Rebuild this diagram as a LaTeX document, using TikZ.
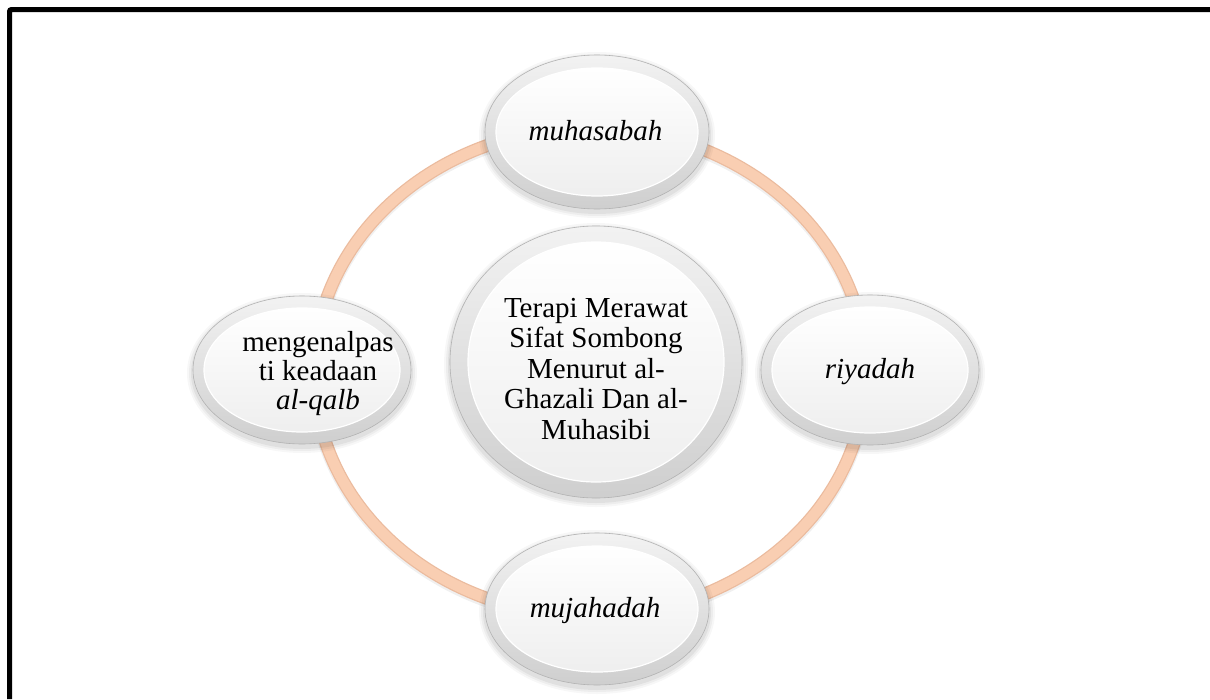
\documentclass[tikz,border=0pt]{standalone}
\usepackage{fontspec}
\setmainfont{Liberation Serif}
\usetikzlibrary{shapes.geometric}
\definecolor{ringfill}{HTML}{F9CEB2}
\definecolor{ringedge}{HTML}{EBBB9E}
\tikzset{
  rim/.style={ellipse, inner sep=0pt, draw=gray!60, line width=0.6pt,
    top color=gray!10, middle color=white, bottom color=gray!38},
  face/.style={ellipse, inner sep=0pt, draw=white, line width=1.2pt,
    top color=white, bottom color=gray!13},
  lbl/.style={inner sep=0pt, align=center, text=black,
    font=\fontsize{29}{29}\selectfont},
  frameline/.style={line width=5pt, black, rounded corners=2pt}
}
\newcommand\mybubble[7]{%
  \foreach \k/\o in {6/0.03,4/0.04,2/0.05}{
    \fill[black,opacity=\o] (#2,#3+3) ellipse [x radius=#4pt+\k pt, y radius=#5pt+\k pt];
  }
  \node[rim, minimum width=2*#4pt, minimum height=2*#5pt] (#1) at (#2,#3) {};
  \node[face, minimum width=2*#6pt, minimum height=2*#7pt] (#1-face) at (#2,#3) {};
}
\begin{document}
\begin{tikzpicture}[x=1pt,y=-1pt]
\useasboundingbox (0,0) rectangle (1210,699);
\fill[white] (0,0) rectangle (1210,699);
% frame
\draw[frameline] (9.5,699) -- (9.5,9.5) -- (1210,9.5);
% ring
\coordinate (ringc) at (590,372);
\draw[black, opacity=0.06, line width=14pt] ([yshift=-2pt]ringc) ellipse [x radius=276pt, y radius=244pt];
\draw[ringedge, line width=13pt] (ringc) ellipse [x radius=276pt, y radius=244pt];
\draw[ringfill, line width=10.5pt] (ringc) ellipse [x radius=276pt, y radius=244pt];
% bubbles
\mybubble{top}{597}{132}{112}{77}{101}{64}
\mybubble{bottom}{597}{609}{112}{76}{101}{63}
\mybubble{left}{302}{370}{109}{74}{98}{62}
\mybubble{right}{870}{370}{109}{75}{98}{63}
\mybubble{center}{596}{362}{146}{136}{128}{120}
% texts
\node[lbl, anchor=base] (ttop) at (595.5,140) {\textit{muhasabah}};
\node[lbl, anchor=base] (tbottom) at (595,617) {\textit{mujahadah}};
\node[lbl, anchor=base] (tright) at (870,378) {\textit{riyadah}};
\node[lbl] (tleft) at (318,374) {mengenalpas\\ti keadaan\\\textit{al-qalb}};
\node[lbl, font=\fontsize{29}{30.5}\selectfont] (tcenter) at (596,369)
  {Terapi Merawat\\Sifat Sombong\\Menurut al-\\Ghazali Dan al-\\Muhasibi};
\end{tikzpicture}
\end{document}
